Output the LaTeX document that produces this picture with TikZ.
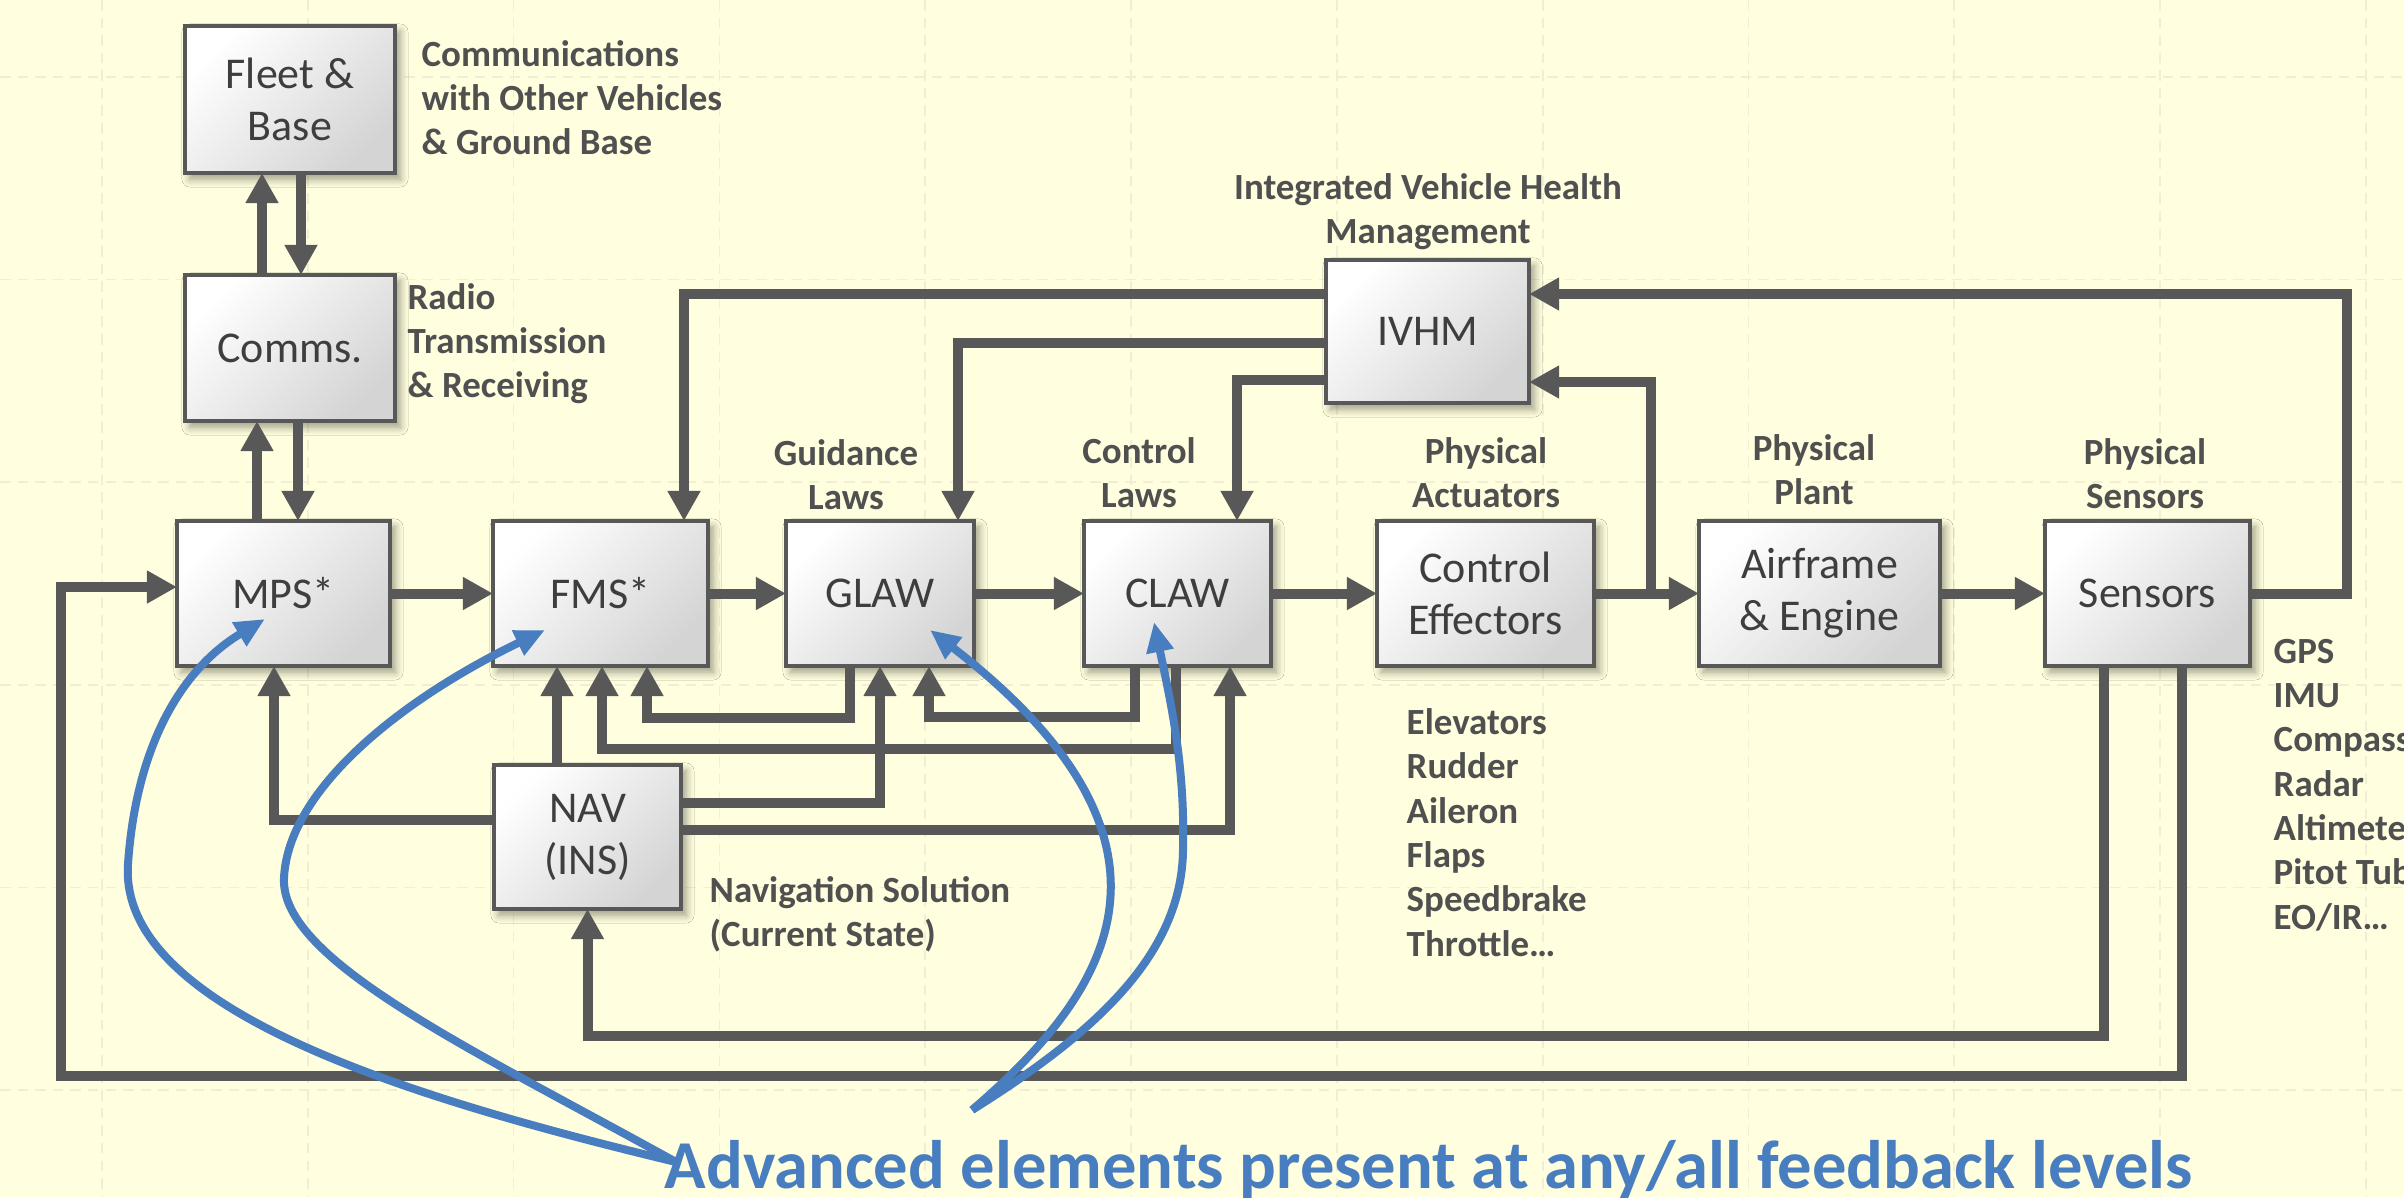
\documentclass[tikz,border=0pt]{standalone}
\usepackage{fontspec}
\setmainfont{Carlito}
\usetikzlibrary{arrows.meta,shadows.blur}
\definecolor{paper}{RGB}{255,254,222}
\definecolor{gridc}{RGB}{240,239,213}
\definecolor{linegray}{RGB}{88,88,88}
\definecolor{txtgray}{RGB}{80,80,80}
\definecolor{boxtxt}{RGB}{62,62,62}
\definecolor{boxshade}{RGB}{212,212,212}
\definecolor{advblue}{RGB}{72,125,192}

\begin{document}
\begin{tikzpicture}[x=0.01cm, y=-0.01cm,
  blk/.style={draw=linegray, line width=0.04cm, inner sep=0pt, outer sep=0pt,
    top color=white, bottom color=boxshade, shading angle=45,
    blur shadow={shadow xshift=0.05cm, shadow yshift=-0.06cm, shadow blur radius=0.08cm, shadow blur steps=6, shadow opacity=40},
    font=\fontsize{12.5}{14.8}\selectfont, text=boxtxt, align=center,
    minimum height=1.45cm},
  lbl/.style={font=\bfseries\fontsize{10.5}{12.6}\selectfont, text=txtgray, inner sep=0pt},
  arr/.style={draw=linegray, line width=0.1cm, -{Triangle[length=0.30cm,width=0.31cm]}},
  adv/.style={draw=advblue, line width=0.08cm, -{Triangle[length=0.30cm,width=0.26cm]}},
  gridline/.style={draw=gridc, line width=0.5pt, dash pattern=on 3pt off 2pt},
]
\useasboundingbox (0,0) rectangle (2404,1197);
\clip (0,0) rectangle (2404,1197);
\fill[paper] (0,0) rectangle (2404,1197);

% faint background grid
\foreach \k in {0,...,11} \draw[gridline] ({102+205.8*\k},0) -- ({102+205.8*\k},1197);
\foreach \k in {0,...,5} \draw[gridline] (0,{77+202.6*\k}) -- (2404,{77+202.6*\k});

% blocks
\node[blk, minimum width=2.10cm, minimum height=1.47cm] (fleet) at (290,99.5) {Fleet \&\\Base};
\node[blk, minimum width=2.10cm, minimum height=1.46cm] (comms) at (290,348) {Comms.};
\node[blk, minimum width=2.13cm] (mps) at (283.5,593.5) {MPS*};
\node[blk, minimum width=2.15cm] (fms) at (600.5,593.5) {FMS*};
\node[blk, minimum width=1.88cm] (glaw) at (880,593.5) {GLAW};
\node[blk, minimum width=1.87cm] (claw) at (1177.5,593.5) {CLAW};
\node[blk, minimum width=2.17cm] (eff) at (1485.5,593.5) {Control\\Effectors};
\node[blk, minimum width=2.41cm] (air) at (1819.5,593.5) {Airframe\\\& Engine};
\node[blk, minimum width=2.05cm] (sen) at (2147.5,593.5) {Sensors};
\node[blk, minimum width=2.03cm, minimum height=1.43cm] (ivhm) at (1427.5,331.5) {IVHM};
\node[blk, minimum width=1.87cm, minimum height=1.44cm] (nav) at (587.5,837) {NAV\\(INS)};

% communication links
\draw[arr] (257,0 |- mps.north) -- (257,0 |- comms.south);
\draw[arr] (298,0 |- comms.south) -- (298,0 |- mps.north);
\draw[arr] (262,0 |- comms.north) -- (262,0 |- fleet.south);
\draw[arr] (301,0 |- fleet.south) -- (301,0 |- comms.north);

% forward chain
\draw[arr] (mps.east) -- (fms.west);
\draw[arr] (fms.east) -- (glaw.west);
\draw[arr] (glaw.east) -- (claw.west);
\draw[arr] (claw.east) -- (eff.west);
\draw[arr] (eff.east) -- (air.west);
\draw[arr] (air.east) -- (sen.west);

% sensor feedback
\draw[arr] (2182,0 |- sen.south) -- (2182,1076) -- (61,1076) |- (mps.west |- 0,587);
\draw[arr] (2104,0 |- sen.south) -- (2104,1036) -| (nav.south);

% health monitoring
\coordinate (tap) at (1651,0 |- eff.east);
\draw[arr] (sen.east) -- (2347,0 |- sen.east) |- (ivhm.east |- 0,294);
\draw[arr] (tap) |- (ivhm.east |- 0,382);
\draw[arr] (ivhm.west |- 0,294) -| (684,0 |- fms.north);
\draw[arr] (ivhm.west |- 0,343) -| (958,0 |- glaw.north);
\draw[arr] (ivhm.west |- 0,380) -| (1237,0 |- claw.north);

% navigation solution
\draw[arr] (557,0 |- nav.north) -- (557,0 |- fms.south);
\draw[arr] (nav.west |- 0,820) -| (274,0 |- mps.south);
\draw[arr] (nav.east |- 0,803) -| (880,0 |- glaw.south);
\draw[arr] (nav.east |- 0,830) -| (1230,0 |- claw.south);

% inner loops
\draw[arr] (850,0 |- glaw.south) -- (850,718) -| (647,0 |- fms.south);
\draw[arr] (1176,0 |- claw.south) -- (1176,749) -| (602,0 |- fms.south);
\draw[arr] (1135,0 |- claw.south) -- (1135,717) -| (929,0 |- glaw.south);

% annotations
\node[lbl, anchor=west, align=left] (commsNote) at (421,97.5) {Communications\\with Other Vehicles\\\& Ground Base};
\node[lbl, anchor=west, align=left] (radioNote) at (407,343.5) {Radio\\Transmission\\\& Receiving};
\node[lbl, align=center] (ivhmNote) at (1428,211.5) {Integrated Vehicle Health\\Management};
\node[lbl, align=center] (glawNote) at (846,474.5) {Guidance\\Laws};
\node[lbl, align=center] (clawNote) at (1139,473) {Control\\Laws};
\node[lbl, align=center] (effNote) at (1486,473) {Physical\\Actuators};
\node[lbl, align=center] (airNote) at (1814,470) {Physical\\Plant};
\node[lbl, align=center] (senNote) at (2145,474) {Physical\\Sensors};
\node[lbl, anchor=west, align=left] (navNote) at (709,914) {Navigation Solution\\(Current State)};
\node[lbl, anchor=west, align=left] (actList) at (1406,832.5) {Elevators\\Rudder\\Aileron\\Flaps\\Speedbrake\\Throttle…};
\node[lbl, anchor=west, align=left] (senList) at (2273,785) {GPS\\IMU\\Compass\\Radar\\Altimeter\\Pitot Tube\\EO/IR…};

% advanced elements callout
\node[font=\bfseries\fontsize{19.5}{22}\selectfont, text=advblue, anchor=base west, inner sep=0pt] (advtext) at (664,1188) {Advanced elements present at any/all feedback levels};
\coordinate (advL) at (676,1162);
\coordinate (advR) at (972,1110);
\coordinate (tipMPS) at (265,619);
\coordinate (tipFMS) at (545,630);
\coordinate (tipGLAW) at (930,630);
\coordinate (tipCLAW) at (1154,622);
\draw[adv] (advL) .. controls (410,1098) and (118,1010) .. (128,864)
                  .. controls (136,748) and (180,670) .. (tipMPS);
\draw[adv] (advL) .. controls (470,1048) and (280,960) .. (284,878)
                  .. controls (288,790) and (400,700) .. (tipFMS);
\draw[adv] (advR) .. controls (1100,1000) and (1215,850) .. (tipGLAW);
\draw[adv] (advR) .. controls (1100,1030) and (1185,950) .. (1183,844)
                  .. controls (1185,760) and (1168,690) .. (tipCLAW);
\end{tikzpicture}
\end{document}
